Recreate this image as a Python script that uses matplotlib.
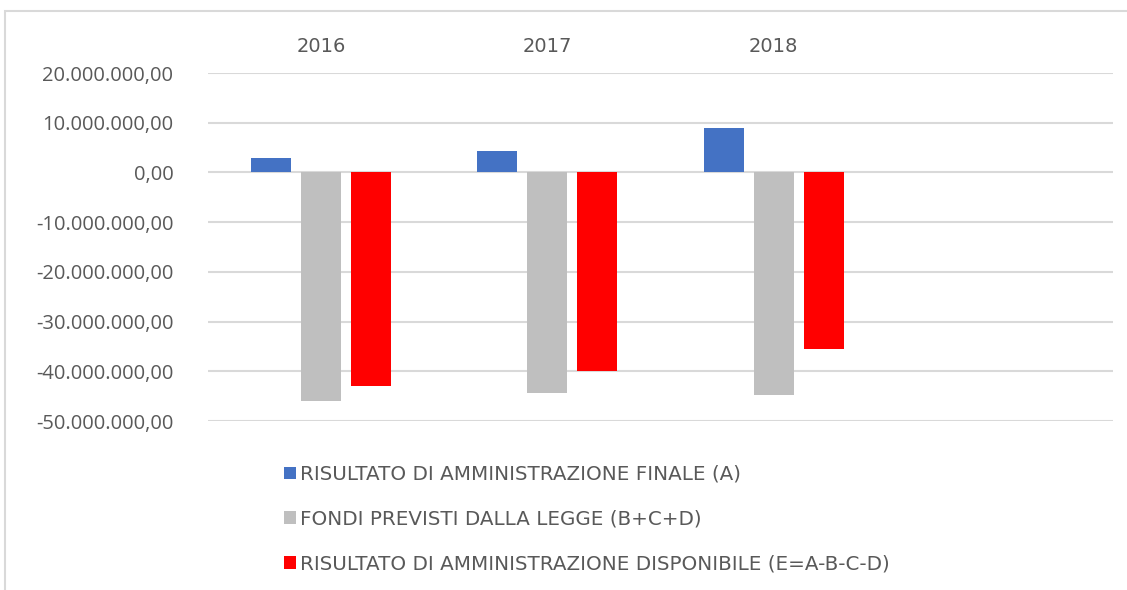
import numpy as np
import matplotlib
matplotlib.use("Agg")
import matplotlib.pyplot as plt
from matplotlib.patches import Rectangle, Patch
from matplotlib.ticker import FuncFormatter

# dati
anni = ["2016", "2017", "2018", ""]
risultato_finale = [3.0e6, 4.3e6, 8.9e6, np.nan]
fondi_previsti = [-46.0e6, -44.4e6, -44.7e6, np.nan]
risultato_disponibile = [-42.9e6, -40.0e6, -35.6e6, np.nan]
etichette = [
    "RISULTATO DI AMMINISTRAZIONE FINALE (A)",
    "FONDI PREVISTI DALLA LEGGE (B+C+D)",
    "RISULTATO DI AMMINISTRAZIONE DISPONIBILE (E=A-B-C-D)",
]
colori = ["#4472c4", "#bfbfbf", "#ff0000"]

W, H = 1127, 590
fig = plt.figure(figsize=(W / 100, H / 100), dpi=100)

# bordo del grafico
fig.patches.append(Rectangle((5 / W, -0.1), 1.2, 1 - 11 / H + 0.1, transform=fig.transFigure,
                             fill=False, edgecolor="#d9d9d9", linewidth=1.5))

ax = fig.add_axes([208 / W, 1 - 421 / H, (1113 - 208) / W, (421 - 73) / H])

x = np.arange(len(anni))
larg = 0.177
passo = 0.221
serie = [risultato_finale, fondi_previsti, risultato_disponibile]
for i, (vals, col) in enumerate(zip(serie, colori)):
    ax.bar(x + (i - 1) * passo, vals, width=larg, color=col, zorder=3)

ax.set_xlim(-0.5, len(anni) - 0.5)
ax.set_ylim(-50e6, 20e6)
ax.set_yticks(np.arange(-50e6, 20e6 + 1, 10e6))

def fmt(v, pos):
    s = f"{abs(v):,.2f}".replace(",", "X").replace(".", ",").replace("X", ".")
    return ("-" if v < 0 else "") + s

ax.yaxis.set_major_formatter(FuncFormatter(fmt))
ax.grid(axis="y", color="#d9d9d9", linewidth=1.5, zorder=0)
for sp in ax.spines.values():
    sp.set_visible(False)
ax.tick_params(axis="y", length=0, pad=25, labelsize=14.5, labelcolor="#595959")
for lab in ax.get_yticklabels():
    lab.set_fontfamily("Open Sans")

ax.xaxis.tick_top()
ax.set_xticks(x)
ax.set_xticklabels(anni)
ax.tick_params(axis="x", length=0, pad=12, labelsize=14, labelcolor="#595959")

maniglie = [Patch(facecolor=c, edgecolor="none") for c in colori]
leg = fig.legend(maniglie, etichette, loc="upper left", bbox_to_anchor=(266 / W, 1 - 447 / H),
                 frameon=False, handlelength=0.6, handleheight=0.6, handletextpad=0.2,
                 labelspacing=1.3, prop={"size": 14.3})
for t in leg.get_texts():
    t.set_color("#595959")

fig.savefig("out.png", dpi=100)
